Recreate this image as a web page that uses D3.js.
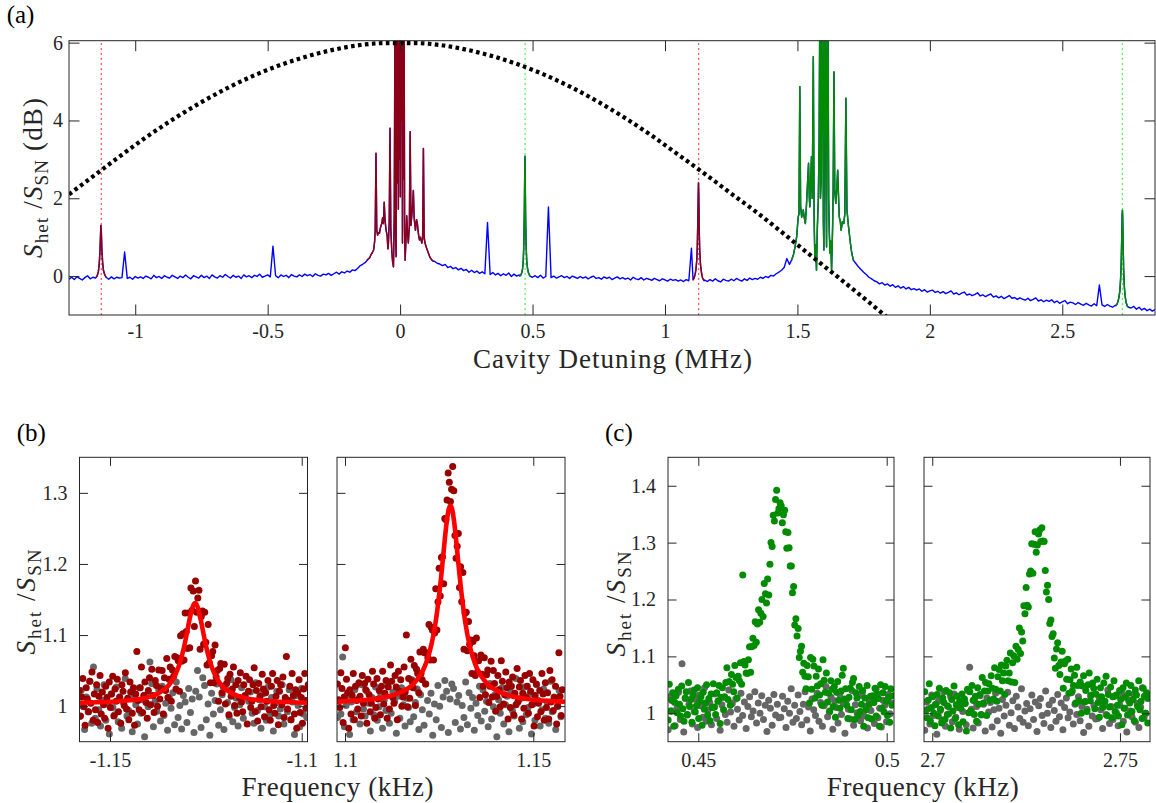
<!DOCTYPE html>
<html>
<head>
<meta charset="utf-8">
<script src="https://cdn.jsdelivr.net/npm/d3@7/dist/d3.min.js"></script>
<style>
  body { margin: 0; background: #fff; font-family: 'Liberation Serif', serif; }
  svg { display: block; }
  svg text, svg tspan { font-family: 'Liberation Serif', serif; }
</style>
</head>
<body>
<svg id="fig" width="1156" height="803"></svg>
<script>
// ---- (a) spectrum, dB, grid from -1.25 MHz every 0.01 MHz
const detuneStart = -1.25, detuneStep = 0.01;
const spectrumDb = [
  -0.08,-0.03,-0.09,-0.02,-0.06,-0.10,-0.04,0.01,-0.07,-0.03,
  -0.05,0.05,1.20,0.20,-0.06,-0.08,-0.02,-0.07,-0.03,-0.05,
  -0.04,0.62,-0.06,-0.03,-0.08,-0.01,-0.05,-0.02,-0.06,0.00,
  -0.03,-0.07,0.02,-0.04,-0.01,-0.06,0.01,-0.03,-0.05,0.02,
  -0.02,-0.06,0.00,-0.04,0.03,-0.03,-0.07,0.01,-0.02,-0.05,
  0.02,-0.04,0.00,-0.06,0.03,-0.02,-0.05,0.01,-0.03,0.04,
  -0.01,-0.05,0.02,-0.03,0.00,-0.06,0.03,-0.02,0.01,-0.04,
  0.02,-0.01,0.05,-0.03,0.00,0.03,-0.02,0.77,0.01,-0.04,
  0.03,-0.01,0.02,-0.04,0.04,0.00,-0.02,0.03,-0.01,0.05,
  0.01,0.04,-0.01,0.06,0.02,0.00,0.05,0.03,0.07,0.02,
  0.06,0.10,0.05,0.11,0.08,0.13,0.10,0.16,0.14,0.20,
  0.27,0.31,0.36,0.41,0.50,0.67,3.16,1.10,1.36,1.90,
  1.20,0.85,0.59,6.50,6.50,6.50,6.50,0.41,0.85,3.70,
  2.20,1.20,0.93,0.85,3.28,0.70,0.55,0.41,0.38,0.33,
  0.31,0.27,0.30,0.22,0.25,0.19,0.22,0.16,0.20,0.14,
  0.17,0.10,0.15,0.09,0.13,0.07,0.11,0.06,1.38,0.04,
  0.09,0.03,0.07,0.01,0.06,0.02,0.08,-0.01,0.05,0.00,
  0.03,0.20,2.90,0.50,0.02,-0.03,0.01,-0.04,0.02,-0.05,
  -0.01,1.78,-0.04,0.00,-0.05,-0.02,0.01,-0.04,-0.01,-0.06,
  0.00,-0.03,-0.06,-0.01,-0.05,-0.02,-0.07,-0.03,0.00,-0.06,
  -0.04,-0.08,-0.02,-0.06,-0.03,-0.09,-0.05,-0.02,-0.07,-0.04,
  -0.08,-0.05,-0.10,-0.03,-0.07,-0.09,-0.04,-0.10,-0.06,-0.08,
  -0.11,-0.06,-0.09,-0.12,-0.07,-0.10,-0.13,-0.08,-0.11,-0.09,
  -0.13,-0.10,-0.14,-0.09,-0.12,0.72,-0.05,0.40,1.30,0.10,
  -0.10,-0.14,-0.09,-0.13,-0.07,-0.12,-0.15,-0.08,-0.11,-0.13,
  -0.08,-0.12,-0.06,-0.10,-0.13,-0.07,-0.11,-0.05,-0.09,-0.06,
  -0.08,-0.03,-0.06,-0.01,-0.04,0.02,0.00,0.06,0.10,0.15,
  0.22,0.45,0.30,0.38,0.60,1.00,1.52,1.70,2.20,1.78,
  3.00,5.60,0.30,2.00,6.50,2.50,0.70,0.60,0.20,5.20,
  2.70,1.50,1.20,4.50,1.27,0.85,0.41,0.33,0.24,0.17,
  0.10,0.04,-0.03,-0.07,-0.12,-0.15,-0.20,-0.17,-0.23,-0.20,
  -0.26,-0.22,-0.29,-0.25,-0.31,-0.27,-0.33,-0.29,-0.35,-0.32,
  -0.36,-0.33,-0.39,-0.35,-0.41,-0.38,-0.36,-0.42,-0.39,-0.44,
  -0.40,-0.45,-0.42,-0.38,-0.46,-0.43,-0.48,-0.44,-0.41,-0.49,
  -0.46,-0.50,-0.47,-0.43,-0.51,-0.48,-0.53,-0.49,-0.46,-0.54,
  -0.51,-0.56,-0.52,-0.58,-0.54,-0.50,-0.57,-0.55,-0.60,-0.56,
  -0.59,-0.62,-0.57,-0.63,-0.60,-0.56,-0.64,-0.61,-0.66,-0.62,
  -0.65,-0.61,-0.68,-0.64,-0.70,-0.66,-0.63,-0.71,-0.67,-0.69,
  -0.73,-0.68,-0.72,-0.75,-0.70,-0.74,-0.77,-0.71,-0.76,-0.23,
  -0.74,-0.78,-0.73,-0.77,-0.80,-0.75,-0.70,0.30,1.30,-0.40,
  -0.76,-0.82,-0.78,-0.85,-0.80,-0.87,-0.83,-0.89,-0.85,-0.90,-0.86
];

// finer reads around the resonances [MHz, dB]
const redPeakLow = [[-1.148,-0.04],[-1.143,0.02],[-1.139,0.12],[-1.136,0.3],[-1.133,0.65],[-1.131,1.05],[-1.1295,1.3],[-1.128,1.15],[-1.126,0.7],[-1.123,0.35],[-1.12,0.15],[-1.116,0.05],[-1.11,-0.03]];
const redCarrier = [[-0.125,0.40],[-0.12,0.44],[-0.115,0.47],[-0.11,0.55],[-0.105,0.6],[-0.1,0.67],[-0.096,0.9],[-0.094,1.18],[-0.091,3.16],[-0.088,1.18],[-0.085,1.05],[-0.082,1.12],[-0.078,1.1],[-0.074,1.25],[-0.069,1.36],[-0.066,1.5],[-0.063,1.35],[-0.06,1.9],[-0.057,1.45],[-0.053,1.18],[-0.049,1.05],[-0.046,0.7],[-0.044,0.85],[-0.041,1.4],[-0.038,3.8],[-0.035,1.2],[-0.031,0.59],[-0.028,0.35],[-0.025,0.24],[-0.022,1.6],[-0.019,7.5],[-0.017,1.0],[-0.015,0.5],[-0.013,7.5],[-0.011,2.4],[-0.009,7.5],[-0.0065,1.72],[-0.0045,7.5],[-0.0025,3.0],[-0.001,7.5],[0.001,2.04],[0.003,7.5],[0.005,4.0],[0.007,7.5],[0.009,0.85],[0.011,7.5],[0.013,2.5],[0.015,7.5],[0.017,1.2],[0.019,0.41],[0.022,0.9],[0.025,1.55],[0.028,1.1],[0.031,0.85],[0.035,1.3],[0.038,3.71],[0.041,1.3],[0.044,1.55],[0.047,1.8],[0.05,2.2],[0.053,1.5],[0.056,1.3],[0.058,1.18],[0.062,1.45],[0.065,1.36],[0.069,1.1],[0.073,0.93],[0.077,1.0],[0.082,0.85],[0.085,0.95],[0.088,3.28],[0.091,1.0],[0.094,0.85],[0.1,0.72],[0.107,0.59],[0.113,0.48],[0.12,0.41],[0.126,0.38]];
const redPeakHigh = [[1.106,-0.1],[1.11,-0.05],[1.114,0.05],[1.117,0.18],[1.12,0.4],[1.122,0.75],[1.124,1.4],[1.1255,2.1],[1.1265,2.4],[1.1278,2.0],[1.129,1.3],[1.131,0.7],[1.134,0.3],[1.138,0.08],[1.142,-0.05],[1.148,-0.12]];
const greenPeakLow = [[0.452,0.0],[0.456,0.03],[0.46,0.1],[0.463,0.22],[0.465,0.4],[0.467,0.8],[0.469,1.6],[0.4705,2.6],[0.4715,3.08],[0.4725,2.4],[0.474,1.4],[0.476,0.75],[0.478,0.4],[0.481,0.2],[0.485,0.08],[0.49,0.0]];
const greenCluster = [[1.478,0.41],[1.485,0.55],[1.491,0.75],[1.497,1.0],[1.503,1.52],[1.506,1.6],[1.509,4.87],[1.512,1.8],[1.516,1.52],[1.519,1.6],[1.522,1.7],[1.526,1.5],[1.53,1.35],[1.534,1.8],[1.537,2.21],[1.542,2.9],[1.545,2.0],[1.547,1.78],[1.55,2.4],[1.553,3.07],[1.556,2.0],[1.56,5.64],[1.563,1.5],[1.566,0.41],[1.569,0.8],[1.572,0.15],[1.575,1.2],[1.579,2.0],[1.582,3.5],[1.585,7.5],[1.587,2.0],[1.59,2.55],[1.592,7.5],[1.595,7.5],[1.598,1.4],[1.6,0.67],[1.603,7.5],[1.605,7.5],[1.608,2.3],[1.61,0.75],[1.613,7.5],[1.615,7.5],[1.618,2.0],[1.62,1.2],[1.623,0.59],[1.626,0.9],[1.629,0.15],[1.633,1.3],[1.635,2.2],[1.638,5.25],[1.641,2.2],[1.645,1.87],[1.649,2.3],[1.652,2.72],[1.655,2.1],[1.658,1.52],[1.662,1.4],[1.665,1.18],[1.67,1.4],[1.675,1.35],[1.679,1.6],[1.683,4.57],[1.687,1.7],[1.693,1.27],[1.7,0.85],[1.705,0.6],[1.711,0.41]];
const greenPeakHigh = [[2.703,-0.76],[2.708,-0.7],[2.713,-0.58],[2.717,-0.4],[2.72,-0.1],[2.7225,0.35],[2.7245,1.0],[2.726,1.55],[2.727,1.69],[2.728,1.5],[2.7295,0.9],[2.7315,0.2],[2.734,-0.25],[2.737,-0.5],[2.741,-0.68],[2.746,-0.78],[2.75,-0.8]];

// dotted envelope, every 0.1 MHz from -1.25
const envStart = -1.25, envStep = 0.1;
const envelopeDb = [2.10,2.61,3.12,3.61,4.06,4.47,4.84,5.16,5.43,5.65,5.82,5.94,5.99,5.99,5.94,5.82,
  5.65,5.43,5.16,4.84,4.47,4.06,3.61,3.12,2.63,2.12,1.62,1.08,0.53,-0.01,-0.56,-1.12];

const redMarks = [-1.128, 1.127];
const greenMarks = [0.472, 2.727];

// ---- (b),(c) zooms: het bins every 0.0003 kHz, reference bins every 0.00046 kHz
const hetStep = 0.0003, refStep = 0.00046;
const bLeftStart = -1.158, bRightStart = 1.098, cLeftStart = 0.442, cRightStart = 2.698;

const bLeftHet = [
  1.022,0.986,1.013,1.039,0.999,0.973,1.026,1.010,0.992,1.035,
  1.004,1.048,0.980,1.017,0.995,1.030,0.977,1.014,1.043,0.989,
  1.020,1.002,0.983,1.028,1.012,0.969,1.034,0.998,1.017,1.042,
  0.986,1.024,1.007,1.038,0.992,1.013,0.976,1.030,1.021,1.001,
  1.047,0.996,1.011,0.981,1.034,1.020,0.990,1.026,0.973,1.017,
  1.077,1.008,0.995,1.026,1.055,0.991,1.015,1.034,1.005,0.983,
  1.022,1.040,1.002,1.052,1.015,0.991,1.036,1.029,1.000,1.051,
  1.010,1.025,1.050,0.989,1.040,1.022,1.067,1.012,1.038,1.055,
  1.007,1.051,1.042,1.070,1.024,1.068,1.064,1.021,1.099,1.063,
  1.102,1.065,1.131,1.105,1.081,1.131,1.082,1.166,1.135,1.162,
  1.112,1.176,1.132,1.152,1.163,1.080,1.126,1.134,1.087,1.132,
  1.090,1.058,1.115,1.061,1.033,1.071,1.077,1.033,1.086,1.041,
  1.050,1.007,1.053,1.060,1.019,1.028,1.059,1.003,1.032,1.039,
  0.988,1.045,1.014,1.024,1.055,1.001,1.030,0.990,1.036,1.012,
  1.047,1.006,0.992,1.030,1.015,1.042,0.975,1.021,1.037,0.998,
  1.007,1.030,1.054,0.992,1.022,0.979,1.032,1.014,0.999,1.045,
  1.024,0.985,1.019,1.007,1.036,0.995,0.980,1.028,1.046,1.001,
  0.990,1.014,1.036,0.974,1.021,1.030,1.002,1.041,0.984,1.012,
  1.070,0.996,1.008,1.028,0.981,1.046,1.015,0.989,1.023,0.969,
  1.018,1.037,0.991,1.012,0.976,1.024,1.046,0.997,1.008,1.030
];
const bRightHet = [
  1.031,1.009,0.998,1.047,1.025,0.977,1.013,1.082,1.038,1.019,
  0.969,1.023,0.989,1.015,1.046,0.981,1.028,1.008,0.996,1.033,
  1.014,0.986,1.043,1.004,1.032,1.023,0.976,1.038,1.016,0.992,
  1.004,1.049,1.031,0.983,0.998,1.039,1.010,1.022,0.988,1.028,
  1.049,1.003,1.018,1.036,0.983,1.027,0.996,1.058,1.035,1.012,
  1.004,1.043,1.027,0.981,1.049,1.021,1.037,1.000,1.013,1.055,
  1.020,1.100,0.999,1.039,1.011,1.066,1.035,1.026,1.057,1.001,
  1.052,1.046,1.019,1.076,1.046,1.037,1.080,1.075,1.031,1.075,
  1.068,1.115,1.065,1.111,1.107,1.065,1.103,1.165,1.107,1.147,
  1.194,1.155,1.209,1.210,1.172,1.264,1.262,1.290,1.328,1.315,
  1.288,1.305,1.337,1.303,1.240,1.208,1.225,1.243,1.167,1.196,
  1.147,1.188,1.080,1.131,1.132,1.078,1.119,1.087,1.093,1.046,
  1.091,1.071,1.043,1.096,1.048,1.064,1.012,1.072,1.045,1.028,
  1.068,1.016,1.044,1.051,1.005,1.028,1.063,1.013,1.050,1.032,
  0.993,1.014,1.043,1.023,0.999,1.064,1.035,1.003,1.016,1.048,
  1.026,0.982,1.034,0.998,1.028,1.041,0.988,1.018,1.002,1.053,
  1.007,1.027,1.036,0.982,1.018,0.997,1.043,1.012,1.028,0.990,
  1.046,1.021,1.002,1.037,0.972,1.015,1.031,0.985,1.004,1.022,
  0.992,1.046,1.017,0.980,1.033,0.998,1.019,0.982,1.050,1.006,
  1.037,0.994,1.012,1.028,0.975,1.000,1.075,1.014,0.987,1.023
];
const cLeftHet = [
  0.988,1.051,1.004,1.023,1.036,0.977,1.019,1.031,1.001,1.042,
  1.016,0.995,1.048,1.008,0.986,1.027,1.038,0.998,1.054,1.012,
  1.024,0.984,1.032,1.041,1.002,1.013,1.045,0.991,1.021,1.029,
  0.979,1.037,1.007,1.018,1.050,0.997,1.026,0.987,1.034,1.010,
  1.052,1.011,0.998,1.036,1.021,1.049,0.982,1.028,1.045,1.006,
  1.029,1.054,1.080,1.024,1.056,1.014,1.068,1.051,1.038,1.084,
  1.063,1.027,1.065,1.057,1.089,1.051,1.243,1.091,1.085,1.071,
  1.070,1.094,1.117,1.072,1.117,1.132,1.119,1.161,1.125,1.157,
  1.182,1.160,1.176,1.200,1.170,1.228,1.210,1.194,1.236,1.208,
  1.262,1.300,1.293,1.348,1.338,1.376,1.392,1.352,1.360,1.370,
  1.365,1.335,1.349,1.357,1.319,1.290,1.318,1.291,1.259,1.259,
  1.212,1.223,1.155,1.166,1.136,1.149,1.098,1.109,1.118,1.072,
  1.088,1.065,1.043,1.084,1.064,1.018,1.098,1.042,1.095,1.083,
  1.027,1.065,1.048,1.078,1.032,1.052,1.014,1.094,1.058,1.037,
  1.071,1.020,1.035,1.004,1.057,1.042,1.012,1.047,0.993,1.037,
  1.056,1.023,1.009,1.039,1.067,1.079,1.025,1.043,1.014,0.991,
  1.028,1.044,1.006,1.054,1.061,0.989,1.036,1.027,0.996,1.047,
  1.003,1.016,1.040,0.977,1.027,1.006,1.049,0.992,1.016,1.030,
  0.990,1.031,1.019,1.044,0.995,1.034,1.026,0.977,1.050,1.009,
  1.036,1.002,1.047,1.021,0.996,1.028,0.984,1.043,1.014,1.031
];
const cRightHet = [
  1.038,1.005,0.992,1.023,1.052,0.986,1.010,1.029,1.000,0.978,
  1.016,1.033,0.995,1.044,1.007,0.983,1.027,1.019,0.989,1.040,
  0.998,1.012,1.036,0.974,1.024,1.004,1.048,0.991,1.015,1.030,
  0.980,1.021,1.009,1.034,0.985,1.025,1.017,0.969,1.042,1.001,
  1.038,1.004,1.049,1.023,0.998,1.030,0.986,1.045,1.016,1.033,
  0.998,1.063,1.018,1.039,1.054,0.996,1.039,1.052,1.023,1.066,
  1.044,1.025,1.080,1.042,1.021,1.064,1.077,1.039,1.085,1.057,
  1.071,1.033,1.083,1.093,1.057,1.071,1.106,1.055,1.089,1.101,
  1.054,1.118,1.095,1.112,1.150,1.105,1.143,1.127,1.189,1.175,
  1.221,1.190,1.187,1.245,1.250,1.298,1.246,1.297,1.319,1.283,
  1.296,1.315,1.322,1.302,1.326,1.303,1.302,1.251,1.213,1.225,
  1.200,1.158,1.164,1.135,1.140,1.097,1.079,1.113,1.124,1.084,
  1.068,1.090,1.109,1.044,1.087,1.092,1.060,1.095,1.035,1.059,
  1.078,1.039,1.049,1.067,1.018,1.081,1.049,1.022,1.055,1.000,
  1.048,1.066,1.020,1.040,1.003,1.050,1.071,1.022,1.032,1.053,
  1.044,1.008,1.034,1.060,1.019,0.993,1.045,1.029,1.010,1.053,
  1.021,1.065,0.996,1.033,1.011,1.046,0.992,1.029,1.057,1.003,
  1.032,1.014,0.995,1.040,1.024,0.980,1.045,1.009,1.028,1.053,
  0.997,1.035,1.018,1.049,1.003,1.024,0.987,1.041,1.032,1.012,
  1.057,1.006,1.021,0.991,1.044,1.030,1.000,1.036,0.983,1.027
];

const bLeftRef = [
  0.985,1.022,1.000,0.967,1.013,0.992,1.035,0.976,1.055,0.983,
  1.024,0.995,0.972,1.008,1.030,0.980,1.003,0.961,1.017,0.998,
  0.988,1.027,0.978,1.011,0.969,1.005,1.039,0.986,0.994,1.020,
  0.964,1.014,1.002,0.975,1.026,0.990,1.009,0.957,1.016,0.999,
  1.062,1.032,0.971,1.007,0.993,1.023,0.979,1.028,0.987,1.004,
  0.966,1.012,0.997,1.019,0.974,1.034,0.984,1.001,0.968,1.015,
  1.006,0.977,1.025,0.991,1.010,0.963,1.021,1.050,1.013,0.970,
  1.040,1.029,0.981,1.003,0.959,1.018,0.989,1.008,1.031,0.973,
  0.995,1.016,0.967,1.024,1.005,0.985,1.037,0.978,0.998,1.011,
  0.972,1.002,1.026,0.983,1.014,0.945,1.007,1.020,0.990,0.976,
  1.033,0.994,1.009,0.969,1.017,0.999,0.980,1.027,0.988,1.012,
  0.965,1.004,1.021,0.986,0.996,1.030,0.975,1.010,0.992,1.023,
  0.981,1.006,0.960,1.015,1.001,0.971,1.025,0.989,1.008,0.984
];
const bRightRef = [
  0.984,1.008,0.989,1.069,0.971,1.001,1.015,0.960,1.006,0.981,
  1.023,0.992,1.010,0.975,1.030,0.996,0.986,1.021,1.004,0.965,
  1.012,0.988,1.027,0.980,0.999,1.017,0.969,1.009,0.994,1.033,
  0.976,0.990,1.020,1.007,0.962,1.014,0.983,1.026,1.002,0.972,
  1.011,0.998,0.978,1.037,0.985,1.005,1.024,0.967,1.016,0.995,
  0.973,1.031,1.008,0.989,1.018,0.959,1.003,0.981,1.029,1.000,
  0.970,1.013,1.036,1.021,0.963,1.010,1.031,1.025,0.977,1.006,
  1.015,0.968,1.001,0.984,1.034,0.974,1.019,0.997,1.012,0.966,
  1.004,0.987,1.028,0.979,1.023,0.993,1.007,0.971,1.032,0.982,
  0.999,1.016,0.957,1.009,0.990,1.026,0.975,1.002,1.014,0.964,
  1.020,0.994,0.986,1.039,1.005,0.969,1.011,0.978,1.027,0.988,
  0.998,1.017,0.961,1.003,0.980,1.030,1.008,0.972,0.995,1.024,
  0.983,1.006,0.976,1.035,0.992,1.013,0.967,1.000,1.022,0.985
];
const cLeftRef = [
  0.971,1.029,1.004,1.021,0.978,1.008,1.037,0.989,1.087,0.967,
  1.026,0.997,1.016,1.039,0.981,1.003,1.024,0.975,1.032,1.013,
  0.993,1.045,0.986,1.006,1.019,0.980,1.010,1.034,0.991,1.022,
  0.970,1.015,1.028,0.998,0.984,1.041,1.002,1.017,0.977,1.025,
  1.007,0.988,1.035,0.996,1.020,0.973,1.012,1.029,0.994,1.004,
  1.038,0.983,1.018,1.000,1.031,0.989,1.014,0.968,1.023,1.009,
  0.979,1.033,0.997,1.016,0.992,0.993,1.030,1.008,0.975,1.021,
  1.000,1.043,0.984,1.014,0.991,1.032,1.003,0.980,1.016,1.038,
  0.988,1.011,0.969,1.025,1.006,0.996,1.035,0.986,1.019,0.977,
  1.013,1.047,0.994,1.002,1.028,0.972,1.022,1.010,0.983,1.034,
  0.998,1.017,0.965,1.024,1.007,0.990,1.040,0.979,1.015,1.001,
  1.031,0.987,1.036,0.995,1.012,0.974,1.020,1.005,1.027,0.982,
  1.042,0.992,1.009,0.976,1.023,1.014,0.985,1.033,0.999,1.018
];
const cRightRef = [
  0.970,1.020,1.008,0.981,1.032,0.996,1.015,0.963,1.022,1.005,
  0.988,1.038,0.977,1.013,0.999,1.029,0.985,1.034,0.993,1.010,
  0.972,1.018,1.003,1.025,0.980,1.040,1.081,1.007,0.974,1.021,
  1.012,0.983,1.031,0.997,1.016,0.969,1.027,1.002,1.019,0.976,
  1.006,1.035,0.987,1.009,0.965,1.024,0.995,1.014,1.037,0.979,
  1.001,1.022,0.973,1.030,1.011,0.991,1.043,0.984,1.004,1.017,
  0.978,1.008,1.032,0.989,1.020,0.968,1.013,1.026,0.996,0.982,
  1.039,1.000,1.015,0.975,1.023,1.005,0.986,1.033,0.994,1.018,
  0.971,1.010,1.027,0.992,1.002,1.036,0.981,1.016,0.998,1.029,
  0.987,1.012,0.966,1.021,1.007,0.977,1.031,0.995,1.014,0.990,
  0.991,1.028,1.006,0.973,1.019,0.998,1.041,0.982,1.012,0.989,
  1.030,1.001,0.978,1.014,1.036,0.986,1.009,0.967,1.023,1.004,
  0.994,1.033,0.984,1.017,0.975,1.011,1.045,0.992,1.000,1.026
];

// Lorentzian fits [kHz, ratio]
const fitBLeft = [[-1.158,1.0047],[-1.15,1.0061],[-1.1478,1.0068],[-1.1448,1.0082],[-1.1408,1.0116],[-1.1378,1.0169],[-1.1358,1.0236],[-1.1348,1.0288],[-1.1338,1.036],[-1.1328,1.0461],[-1.1318,1.0605],[-1.1313,1.0698],[-1.1308,1.0807],[-1.1303,1.0932],[-1.1298,1.1069],[-1.1293,1.1207],[-1.1288,1.133],[-1.1283,1.1418],[-1.1278,1.145],[-1.1273,1.1418],[-1.1268,1.133],[-1.1263,1.1207],[-1.1258,1.1069],[-1.1253,1.0932],[-1.1248,1.0807],[-1.1243,1.0698],[-1.1238,1.0605],[-1.1228,1.0461],[-1.1218,1.036],[-1.1208,1.0288],[-1.1198,1.0236],[-1.1178,1.0169],[-1.1148,1.0116],[-1.1108,1.0082],[-1.1078,1.0068],[-1.098,1.0047]];
const fitBRight = [[1.098,1.0063],[1.108,1.0104],[1.112,1.0144],[1.115,1.0199],[1.118,1.0304],[1.12,1.0436],[1.121,1.0537],[1.122,1.0679],[1.123,1.0876],[1.124,1.1159],[1.1245,1.1343],[1.125,1.1558],[1.1255,1.1802],[1.126,1.2071],[1.1265,1.2343],[1.127,1.2585],[1.1275,1.2758],[1.128,1.282],[1.1285,1.2758],[1.129,1.2585],[1.1295,1.2343],[1.13,1.2071],[1.1305,1.1802],[1.131,1.1558],[1.1315,1.1343],[1.132,1.1159],[1.133,1.0876],[1.134,1.0679],[1.135,1.0537],[1.136,1.0436],[1.138,1.0304],[1.141,1.0199],[1.144,1.0144],[1.148,1.0104],[1.158,1.0063]];

// ---------------------------------------------------------------
const SERIF = 'Liberation Serif';
const AX = '#262626';
const svg = d3.select('#fig');
let clipCount = 0;

function clipTo(x, y) {
  const id = 'clip' + (clipCount++);
  const [l, r] = x.range(), [b, t] = y.range();
  svg.append('clipPath').attr('id', id).append('rect')
    .attr('x', l).attr('y', t).attr('width', r - l).attr('height', b - t);
  return svg.append('g').attr('clip-path', `url(#${id})`);
}

function drawAxes(x, y, o) {
  const [l, r] = x.range(), [b, t] = y.range();
  const g = svg.append('g');
  const fmt = d => String(d);
  g.append('g').attr('transform', `translate(0,${b})`)
    .call(d3.axisBottom(x).tickValues(o.xt).tickSizeInner(-o.tl).tickSizeOuter(0).tickPadding(o.xpad).tickFormat(fmt));
  g.append('g').attr('transform', `translate(0,${t})`)
    .call(d3.axisTop(x).tickValues(o.xt).tickSizeInner(-o.tl).tickSizeOuter(0).tickFormat(''));
  g.append('g').attr('transform', `translate(${l},0)`)
    .call(d3.axisLeft(y).tickValues(o.yt).tickSizeInner(-o.tl).tickSizeOuter(0).tickPadding(o.ypad).tickFormat(o.ylabels ? fmt : ''));
  g.append('g').attr('transform', `translate(${r},0)`)
    .call(d3.axisRight(y).tickValues(o.yt).tickSizeInner(-o.tl).tickSizeOuter(0).tickFormat(''));
  g.selectAll('.domain').remove();
  g.selectAll('g').attr('font-family', SERIF);
  g.selectAll('.tick line').attr('stroke', AX).attr('stroke-width', 1);
  g.selectAll('.tick text').attr('fill', AX).attr('font-size', 20);
  g.append('rect').attr('x', l).attr('y', t).attr('width', r - l).attr('height', b - t)
    .attr('fill', 'none').attr('stroke', AX).attr('stroke-width', 1);
}

function yLabel(cx, cy, withDb, len) {
  const t = svg.append('text')
    .attr('transform', `translate(${cx},${cy}) rotate(-90)`)
    .attr('text-anchor', 'middle').attr('font-size', 27).attr('fill', AX)
    .attr('textLength', len).attr('lengthAdjust', 'spacing');
  t.append('tspan').attr('font-style', 'italic').text('S');
  t.append('tspan').attr('font-size', 19).attr('dy', 6).text('het');
  t.append('tspan').attr('dy', -6).text(' /');
  t.append('tspan').attr('font-style', 'italic').text('S');
  t.append('tspan').attr('font-size', 19).attr('dy', 6).text('SN');
  if (withDb) t.append('tspan').attr('dy', -6).text(' (dB)');
}

function textAt(x, y, s, size, anchor, len) {
  const t = svg.append('text').attr('x', x).attr('y', y).attr('font-size', size)
    .attr('text-anchor', anchor).attr('fill', AX).text(s);
  if (len) t.attr('textLength', len).attr('lengthAdjust', 'spacing');
  return t;
}

// ---- panel (a)
const xA = d3.scaleLinear().domain([-1.25, 2.85]).range([69, 1155]);
const yA = d3.scaleLinear().domain([-1, 6.05]).range([315, 40.7]);
const gA = clipTo(xA, yA);

gA.selectAll('line.mark').data(redMarks.map(f => ({ f, c: '#ff5a5a' })).concat(greenMarks.map(f => ({ f, c: '#5cf25c' }))))
  .join('line')
  .attr('x1', d => xA(d.f)).attr('x2', d => xA(d.f))
  .attr('y1', yA.range()[0]).attr('y2', yA.range()[1])
  .attr('stroke', d => d.c).attr('stroke-width', 1.3).attr('stroke-dasharray', '2 3');

const details = [redPeakLow, redCarrier, redPeakHigh, greenPeakLow, greenCluster, greenPeakHigh];
const inDetail = f => details.some(seg => f >= seg[0][0] - 1e-6 && f <= seg[seg.length - 1][0] + 1e-6);
const trace = spectrumDb.map((v, i) => [detuneStart + i * detuneStep, v])
  .filter(p => !inDetail(p[0]))
  .concat(...details)
  .sort((a, b) => a[0] - b[0]);

const lineA = d3.line().x(d => xA(d[0])).y(d => yA(d[1]));
gA.append('path').datum(trace).attr('d', lineA)
  .attr('fill', 'none').attr('stroke', '#0000ff').attr('stroke-width', 1.4).attr('stroke-linejoin', 'round');

[[redPeakLow, '#990000', 0.9], [redCarrier, '#990000', 0.9], [redPeakHigh, '#990000', 0.9],
 [greenPeakLow, '#008c00', 1], [greenCluster, '#008c00', 1], [greenPeakHigh, '#008c00', 1]].forEach(([seg, c, op]) => {
  gA.append('path').datum(seg).attr('d', lineA)
    .attr('fill', 'none').attr('stroke', c).attr('stroke-width', 1.5).attr('stroke-opacity', op)
    .attr('stroke-linejoin', 'round');
});

const envelope = envelopeDb.map((v, i) => [envStart + i * envStep, v]);
gA.append('path').datum(envelope)
  .attr('d', d3.line().x(d => xA(d[0])).y(d => yA(d[1])).curve(d3.curveMonotoneX))
  .attr('fill', 'none').attr('stroke', '#000').attr('stroke-width', 4.2).attr('stroke-dasharray', '3.6 3.4');

drawAxes(xA, yA, { xt: [-1, -0.5, 0, 0.5, 1, 1.5, 2, 2.5], yt: [0, 2, 4, 6], tl: 10.5, xpad: 9, ypad: 6, ylabels: true });
textAt(612.5, 368, 'Cavity Detuning (MHz)', 27, 'middle', 279);
yLabel(42, 178, true, 160);
textAt(6.7, 23, '(a)', 25, 'start').attr('fill', '#000');

// ---- panels (b), (c)
const PB = { t: 457.3, b: 741.7 };
const dotR = 3.5;
const fitLine = (x, y) => d3.line().x(d => x(d[0])).y(d => y(d[1])).curve(d3.curveMonotoneX);

function zoomPanel(o) {
  const x = d3.scaleLinear().domain(o.xd).range([o.l, o.r]);
  const y = d3.scaleLinear().domain(o.yd).range([PB.b, PB.t]);
  const g = clipTo(x, y);
  g.append('g').selectAll('circle').data(o.ref).join('circle')
    .attr('cx', (d, i) => x(o.start + i * refStep)).attr('cy', d => y(d))
    .attr('r', dotR).attr('fill', '#666666');
  g.append('g').selectAll('circle').data(o.het).join('circle')
    .attr('cx', (d, i) => x(o.start + i * hetStep)).attr('cy', d => y(d))
    .attr('r', dotR).attr('fill', o.color);
  if (o.fit) {
    g.append('path').datum(o.fit).attr('d', fitLine(x, y))
      .attr('fill', 'none').attr('stroke', '#ff0000').attr('stroke-width', 4.6).attr('stroke-linecap', 'round');
  }
  drawAxes(x, y, { xt: o.xt, yt: o.yt, tl: 8.5, xpad: 11, ypad: 12, ylabels: o.ylabels });
}

zoomPanel({ l: 79.5, r: 307.5, xd: [-1.15796, -1.09849], yd: [0.95, 1.35], start: bLeftStart,
  het: bLeftHet, ref: bLeftRef, color: '#990000', fit: fitBLeft, xt: [-1.15, -1.1], yt: [1, 1.1, 1.2, 1.3], ylabels: true });
zoomPanel({ l: 337, r: 565, xd: [1.09788, 1.15842], yd: [0.95, 1.35], start: bRightStart,
  het: bRightHet, ref: bRightRef, color: '#990000', fit: fitBRight, xt: [1.1, 1.15], yt: [1, 1.1, 1.2, 1.3], ylabels: false });
zoomPanel({ l: 668, r: 894, xd: [0.44196, 0.50194], yd: [0.95, 1.45], start: cLeftStart,
  het: cLeftHet, ref: cLeftRef, color: '#008c00', xt: [0.45, 0.5], yt: [1, 1.1, 1.2, 1.3, 1.4], ylabels: true });
zoomPanel({ l: 924, r: 1150, xd: [2.6978, 2.758], yd: [0.95, 1.45], start: cRightStart,
  het: cRightHet, ref: cRightRef, color: '#008c00', xt: [2.7, 2.75], yt: [1, 1.1, 1.2, 1.3, 1.4], ylabels: false });

textAt(337.5, 796, 'Frequency (kHz)', 27, 'middle', 192);
textAt(922.8, 796, 'Frequency (kHz)', 27, 'middle', 192);
yLabel(35, 602, false, 105);
yLabel(625, 604, false, 105);
textAt(16.7, 441.4, '(b)', 25, 'start').attr('fill', '#000');
textAt(605, 441.4, '(c)', 25, 'start').attr('fill', '#000');

// serif face on every text run
svg.attr('font-family', SERIF);
svg.selectAll('text, tspan').style('font-family', SERIF);
</script>
</body>
</html>
